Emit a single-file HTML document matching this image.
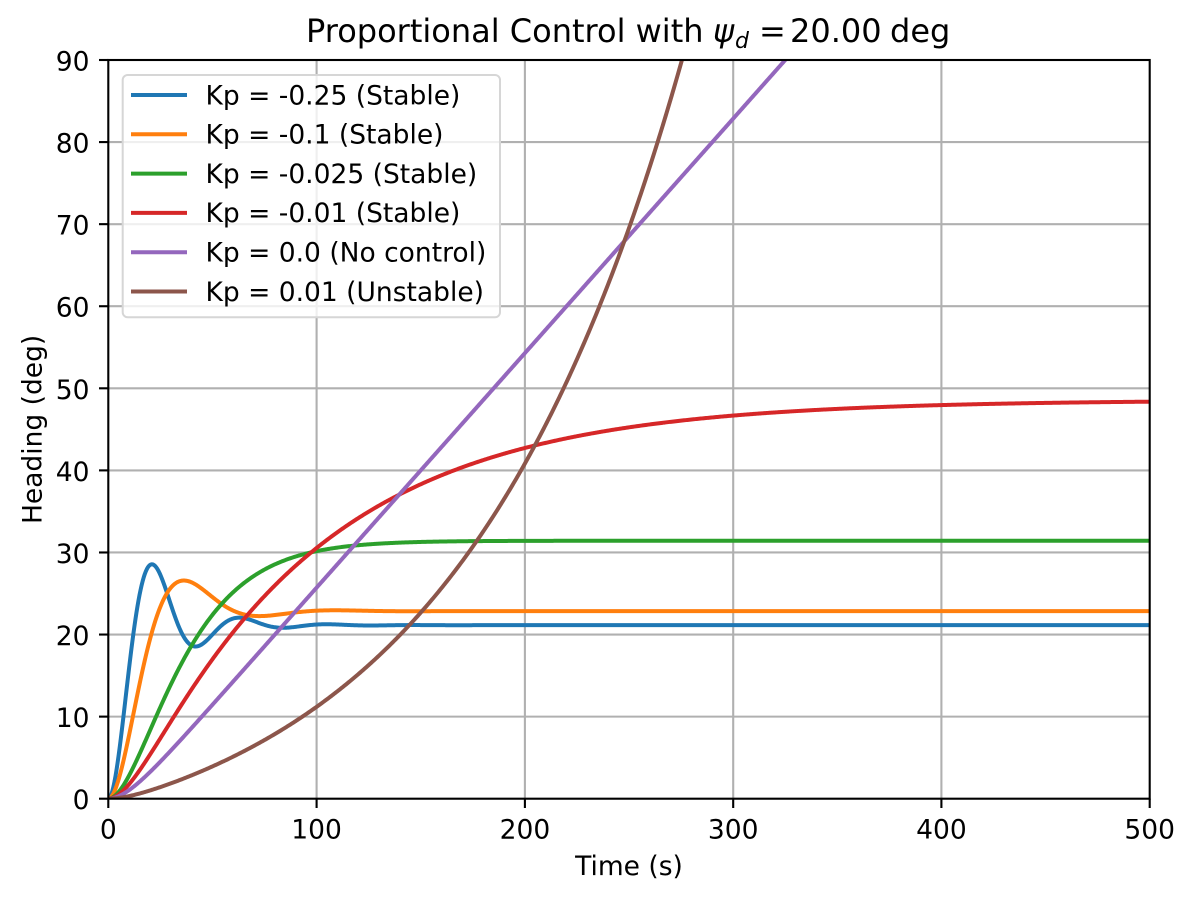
<!DOCTYPE html>
<html>
<head>
<meta charset="utf-8">
<style>
html,body{margin:0;padding:0;background:#fff;overflow:hidden;}
svg{display:block;}
text{font-family:"DejaVu Sans","Liberation Sans",sans-serif;fill:#000;}
</style>
</head>
<body>
<svg id="fig" width="1194" height="900" viewBox="0 0 1194 900" xmlns="http://www.w3.org/2000/svg">
<rect x="0" y="0" width="1194" height="900" fill="#ffffff"/>
<defs>
<clipPath id="ax"><rect x="108.3" y="60" width="1041.4" height="738.7"/></clipPath>
</defs>
<!-- grid -->
<g stroke="#b0b0b0" stroke-width="2.1" fill="none">
<line x1="316.6" y1="60" x2="316.6" y2="798.7"/>
<line x1="524.9" y1="60" x2="524.9" y2="798.7"/>
<line x1="733.2" y1="60" x2="733.2" y2="798.7"/>
<line x1="941.4" y1="60" x2="941.4" y2="798.7"/>
<line x1="108.3" y1="716.62" x2="1149.7" y2="716.62"/>
<line x1="108.3" y1="634.54" x2="1149.7" y2="634.54"/>
<line x1="108.3" y1="552.47" x2="1149.7" y2="552.47"/>
<line x1="108.3" y1="470.39" x2="1149.7" y2="470.39"/>
<line x1="108.3" y1="388.31" x2="1149.7" y2="388.31"/>
<line x1="108.3" y1="306.23" x2="1149.7" y2="306.23"/>
<line x1="108.3" y1="224.16" x2="1149.7" y2="224.16"/>
<line x1="108.3" y1="142.08" x2="1149.7" y2="142.08"/>
</g>
<!-- curves -->
<g id="curves" clip-path="url(#ax)" fill="none" stroke-width="4" stroke-linejoin="round" stroke-linecap="butt"></g>
<!-- spines -->
<rect x="108.3" y="60" width="1041.4" height="738.7" fill="none" stroke="#000" stroke-width="2.1"/>
<!-- ticks -->
<g stroke="#000" stroke-width="2.1">
<line x1="108.3" y1="798.7" x2="108.3" y2="808"/>
<line x1="316.6" y1="798.7" x2="316.6" y2="808"/>
<line x1="524.9" y1="798.7" x2="524.9" y2="808"/>
<line x1="733.2" y1="798.7" x2="733.2" y2="808"/>
<line x1="941.4" y1="798.7" x2="941.4" y2="808"/>
<line x1="1149.7" y1="798.7" x2="1149.7" y2="808"/>
<line x1="99" y1="798.7" x2="108.3" y2="798.7"/>
<line x1="99" y1="716.62" x2="108.3" y2="716.62"/>
<line x1="99" y1="634.54" x2="108.3" y2="634.54"/>
<line x1="99" y1="552.47" x2="108.3" y2="552.47"/>
<line x1="99" y1="470.39" x2="108.3" y2="470.39"/>
<line x1="99" y1="388.31" x2="108.3" y2="388.31"/>
<line x1="99" y1="306.23" x2="108.3" y2="306.23"/>
<line x1="99" y1="224.16" x2="108.3" y2="224.16"/>
<line x1="99" y1="142.08" x2="108.3" y2="142.08"/>
<line x1="99" y1="60" x2="108.3" y2="60"/>
</g>
<!-- x tick labels -->
<g font-size="26.5" text-anchor="middle">
<text x="108.3" y="838.5">0</text>
<text x="316.6" y="838.5">100</text>
<text x="524.9" y="838.5">200</text>
<text x="733.2" y="838.5">300</text>
<text x="941.4" y="838.5">400</text>
<text x="1149.7" y="838.5">500</text>
</g>
<!-- y tick labels -->
<g font-size="26.5" text-anchor="end">
<text x="89.5" y="809.2">0</text>
<text x="89.5" y="727.1">10</text>
<text x="89.5" y="645.0">20</text>
<text x="89.5" y="563.0">30</text>
<text x="89.5" y="480.9">40</text>
<text x="89.5" y="398.8">50</text>
<text x="89.5" y="316.7">60</text>
<text x="89.5" y="234.7">70</text>
<text x="89.5" y="152.6">80</text>
<text x="89.5" y="70.5">90</text>
</g>
<!-- axis labels -->
<text x="629" y="875" font-size="26.5" text-anchor="middle">Time (s)</text>
<text x="41.7" y="429.4" font-size="26.5" text-anchor="middle" transform="rotate(-90 41.7 429.4)">Heading (deg)</text>
<!-- title -->
<text y="42" font-size="32"><tspan x="306">Proportional Control with</tspan><tspan x="713" font-style="italic">ψ</tspan><tspan x="735" dy="6" font-size="22" font-style="italic">d</tspan><tspan x="759" dy="-6">=</tspan><tspan x="790">20.00</tspan><tspan x="890">deg</tspan></text>
<!-- legend -->
<rect x="122.7" y="75" width="377.3" height="242.3" rx="5" ry="5" fill="#ffffff" fill-opacity="0.8" stroke="#d6d6d6" stroke-width="2"/>
<g stroke-width="4">
<line x1="131" y1="95" x2="187" y2="95" stroke="#1f77b4"/>
<line x1="131" y1="134.3" x2="187" y2="134.3" stroke="#ff7f0e"/>
<line x1="131" y1="173.6" x2="187" y2="173.6" stroke="#2ca02c"/>
<line x1="131" y1="212.9" x2="187" y2="212.9" stroke="#d62728"/>
<line x1="131" y1="252.2" x2="187" y2="252.2" stroke="#9467bd"/>
<line x1="131" y1="291.5" x2="187" y2="291.5" stroke="#8c564b"/>
</g>
<g font-size="26.5">
<text x="205.5" y="104.3">Kp = -0.25 (Stable)</text>
<text x="205.5" y="143.6">Kp = -0.1 (Stable)</text>
<text x="205.5" y="182.9">Kp = -0.025 (Stable)</text>
<text x="205.5" y="222.2">Kp = -0.01 (Stable)</text>
<text x="205.5" y="261.5">Kp = 0.0 (No control)</text>
<text x="205.5" y="300.8">Kp = 0.01 (Unstable)</text>
</g>
</svg>
<script>
(function(){
  var X0=108.3,X1=1149.7,Y0=798.7,Y1=60;
  function px(t){return X0+t*(X1-X0)/500;}
  function py(v){return Y0-v*(Y0-Y1)/90;}
  var T=10,b=0.2857,psid=20;
  var kps=[-0.25,-0.1,-0.025,-0.01,0,0.01];
  var cols=["#1f77b4","#ff7f0e","#2ca02c","#d62728","#9467bd","#8c564b"];
  var g=document.getElementById("curves");
  var NS="http://www.w3.org/2000/svg";
  for(var k=0;k<kps.length;k++){
    var kp=kps[k];
    function f(p,r){return [r,(kp*(p-psid)+b-r)/T];}
    var p=0,r=0,dt=0.05,t=0;
    var d="M"+px(0).toFixed(2)+" "+py(0).toFixed(2);
    for(var i=1;i<=10000;i++){
      var a=f(p,r);
      var bb=f(p+a[0]*dt/2,r+a[1]*dt/2);
      var c=f(p+bb[0]*dt/2,r+bb[1]*dt/2);
      var e=f(p+c[0]*dt,r+c[1]*dt);
      p+=dt/6*(a[0]+2*bb[0]+2*c[0]+e[0]);
      r+=dt/6*(a[1]+2*bb[1]+2*c[1]+e[1]);
      t=i*dt;
      if(i%10===0){
        d+="L"+px(t).toFixed(2)+" "+py(p).toFixed(2);
        if(p>110)break;
      }
    }
    var path=document.createElementNS(NS,"path");
    path.setAttribute("d",d);
    path.setAttribute("stroke",cols[k]);
    g.appendChild(path);
  }
})();
</script>
</body>
</html>
